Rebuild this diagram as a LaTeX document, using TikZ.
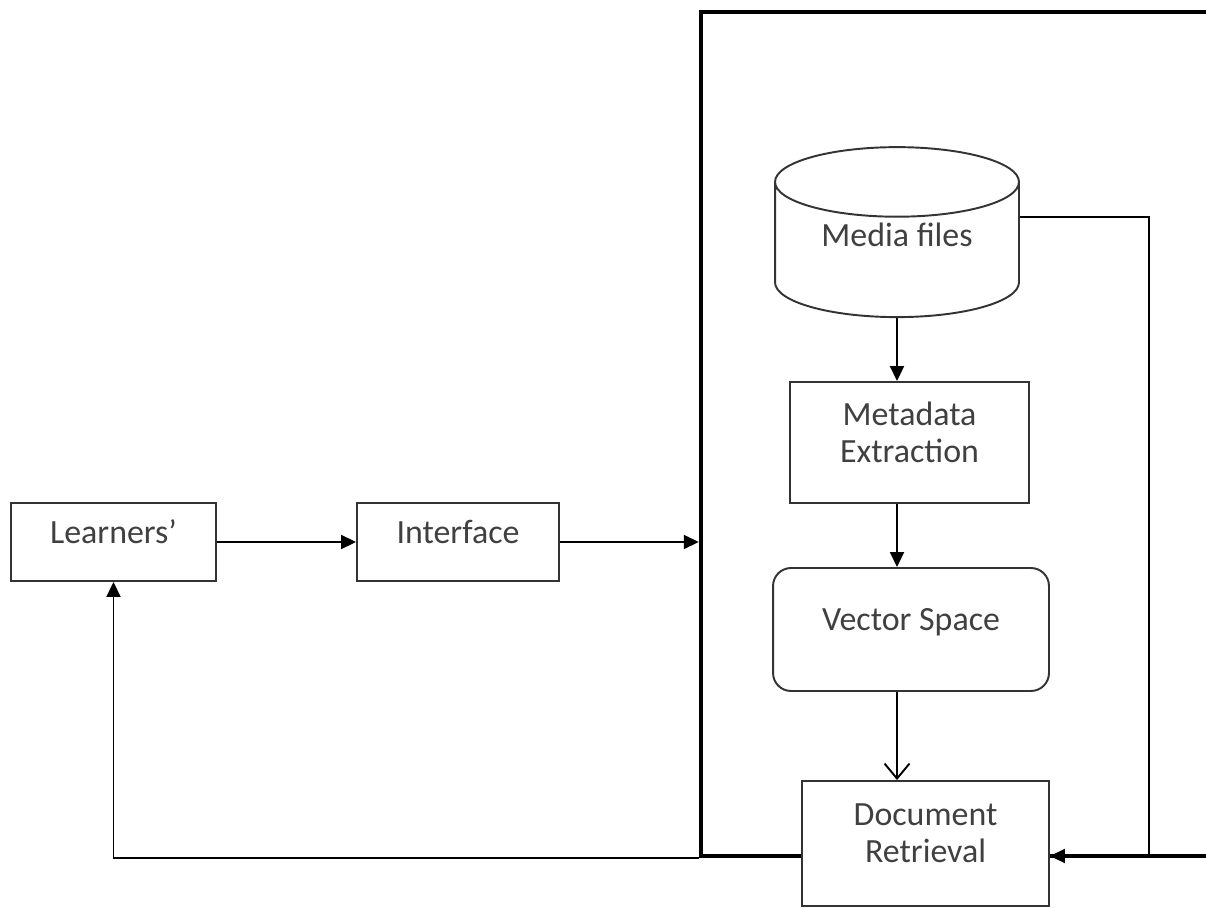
\documentclass[tikz,border=0pt]{standalone}
\usepackage{fontspec}
\setmainfont{Carlito}
\usetikzlibrary{arrows.meta,shapes.geometric}

\def\px{0.02cm}

\begin{document}
\begin{tikzpicture}[x=\px,y=-\px,>={Triangle[length=0.3cm,width=0.28cm]},
    font=\fontsize{19.3pt}{21pt}\selectfont]
    \tikzstyle{box}=[draw=black!80, line width=1.1pt, fill=white, align=center,
        text=black!75, text depth=0.4cm, inner sep=0pt]
    \tikzstyle{store}=[cylinder, shape border rotate=90, aspect=0.46, draw=black!80,
        line width=1.1pt, fill=white, text=black!75, text depth=0.6cm, inner sep=0pt]
    \tikzstyle{link}=[->, line width=1.1pt]
    \tikzstyle{frame}=[draw, line width=2.6pt, inner sep=0pt]

    \useasboundingbox (0,0) rectangle (1206,908);

    % system boundary
    \node[frame, minimum width=10.18cm, minimum height=16.88cm] (sys) at (955.5,434) {};

    \node[box, minimum width=4.1cm, minimum height=1.56cm] (learn) at (113.5,542) {Learners'};
    \node[box, minimum width=4.04cm, minimum height=1.56cm] (inter) at (458,542) {Interface};

    % inside the system
    \node[store, minimum width=4.88cm, minimum height=3.4cm] (media) at (897,250) {Media files};
    \node[box, minimum width=4.78cm, minimum height=2.42cm] (meta) at (909.5,442.5) {Metadata\\Extraction};
    \node[box, rounded corners=0.36cm, minimum width=5.52cm, minimum height=2.46cm] (vec) at (911,629.5) {Vector Space};
    \node[box, minimum width=4.94cm, minimum height=2.5cm] (doc) at (925.5,843.5) {Document\\Retrieval};
    \coordinate (corner) at (1149,856);

    \draw[link] (media) -- (media |- meta.north);
    \draw[link] (learn) -- (inter);
    \draw[link] (inter) -- (inter -| sys.west);
    \draw[link] (meta.south -| media) -- (vec.north -| media);
    \draw[link, -{Straight Barb[length=0.3cm,width=0.5cm]}] (vec.south -| media) -- (doc.north -| media);
    \draw[link] ([yshift=0.66cm]media.east) -| (corner) -- (corner -| doc.east);
    \draw[link] (sys.south west) -| (learn.south);
\end{tikzpicture}
\end{document}
